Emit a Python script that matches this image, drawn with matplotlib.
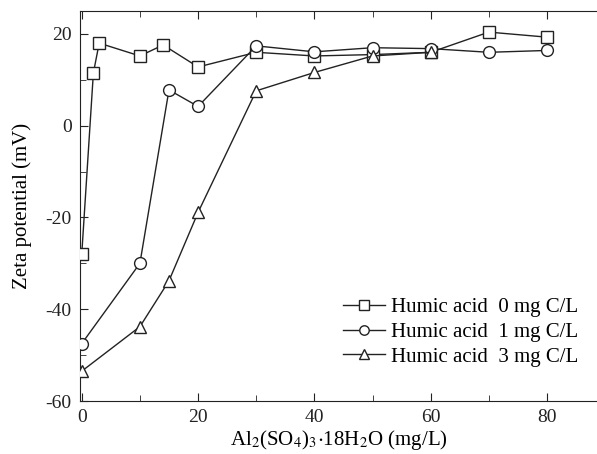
import matplotlib
matplotlib.use("Agg")
import matplotlib.pyplot as plt
from matplotlib.ticker import MultipleLocator

plt.rcParams['font.family'] = ['Liberation Serif', 'DejaVu Serif']
plt.rcParams['mathtext.fontset'] = 'stix'
plt.rcParams['axes.unicode_minus'] = False

# Al2(SO4)3 dose (mg/L) and zeta potential (mV)
dose_0 = [0, 2, 3, 10, 14, 20, 30, 40, 50, 60, 70, 80]
zeta_0 = [-28, 11.5, 18, 15.2, 17.6, 12.8, 16.0, 15.2, 15.5, 16.0, 20.4, 19.3]

dose_1 = [0, 10, 15, 20, 30, 40, 50, 60, 70, 80]
zeta_1 = [-47.5, -30, 7.8, 4.2, 17.4, 16.1, 17.0, 16.8, 16.0, 16.4]

dose_3 = [0, 10, 15, 20, 30, 40, 50, 60]
zeta_3 = [-53.5, -43.8, -33.8, -18.9, 7.6, 11.6, 15.2, 16.0]

labels = ["Humic acid  0 mg C/L", "Humic acid  1 mg C/L", "Humic acid  3 mg C/L"]

fig = plt.figure(figsize=(5.97, 4.54), dpi=100)
ax = fig.add_axes([80 / 597, 53 / 454, 517 / 597, 390 / 454])

style = dict(color='#222222', lw=1.0, markerfacecolor='white',
             markeredgecolor='#222222', markeredgewidth=1.0, markersize=8.5)
ax.plot(dose_0, zeta_0, marker='s', label=labels[0], zorder=3, **style)
ax.plot(dose_1, zeta_1, marker='o', label=labels[1], zorder=4, **style)
ax.plot(dose_3, zeta_3, marker='^', label=labels[2], zorder=5, **style)

ax.set_xlim(-0.3, 88.6)
ax.set_ylim(-60, 25)
ax.xaxis.set_major_locator(MultipleLocator(20))
ax.xaxis.set_minor_locator(MultipleLocator(10))
ax.yaxis.set_major_locator(MultipleLocator(20))
ax.yaxis.set_minor_locator(MultipleLocator(10))
ax.tick_params(which='both', direction='in', top=True, right=False,
               labelsize=14, colors='#222222')
ax.tick_params(which='major', length=6, pad=6)
ax.tick_params(which='minor', length=4)
ax.spines['right'].set_visible(False)
for s in ['left', 'bottom', 'top']:
    ax.spines[s].set_color('#222222')

ax.set_xlabel(r"Al$_2$(SO$_4$)$_3$$\cdot$18H$_2$O (mg/L)", fontsize=15, labelpad=1)
ax.set_ylabel("Zeta potential (mV)", fontsize=15, labelpad=10)

ax.legend(loc='lower right', bbox_to_anchor=(1.0, 0.04), frameon=False,
          fontsize=15, handlelength=2.0, handletextpad=0.3, labelspacing=0.25,
          markerscale=0.8)

fig.savefig("out.png", dpi=100)
